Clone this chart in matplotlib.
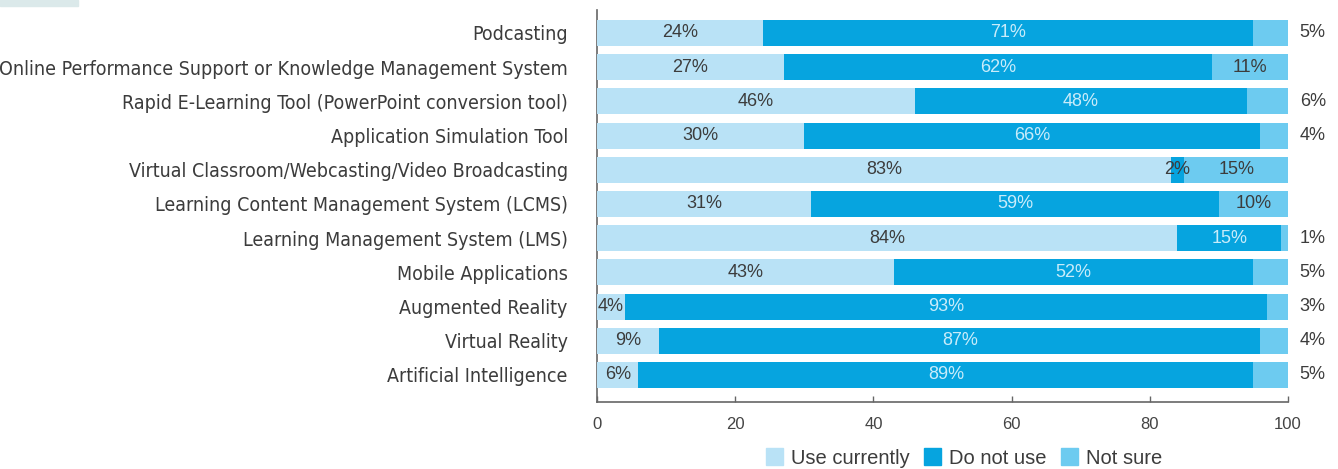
import numpy as np
import matplotlib.pyplot as plt
from matplotlib.patches import Rectangle

categories = [
    'Podcasting',
    'Online Performance Support or Knowledge Management System',
    'Rapid E-Learning Tool (PowerPoint conversion tool)',
    'Application Simulation Tool',
    'Virtual Classroom/Webcasting/Video Broadcasting',
    'Learning Content Management System (LCMS)',
    'Learning Management System (LMS)',
    'Mobile Applications',
    'Augmented Reality',
    'Virtual Reality',
    'Artificial Intelligence',
]
use_currently = [24, 27, 46, 30, 83, 31, 84, 43, 4, 9, 6]
do_not_use = [71, 62, 48, 66, 2, 59, 15, 52, 93, 87, 89]
not_sure = [5, 11, 6, 4, 15, 10, 1, 5, 3, 4, 5]
series_names = ['Use currently', 'Do not use', 'Not sure']

c_use = '#b9e2f6'
c_not = '#06a4df'
c_unsure = '#6dcbf0'
dark = '#3c3c3c'
light = '#c9ecfa'

plain = ['Liberation Sans', 'DejaVu Sans']

fig = plt.figure(figsize=(13.38, 4.69), dpi=100)
ax = fig.add_axes([597 / 1338, 67 / 469, 691 / 1338, 392 / 469])

y = np.arange(len(categories))
use = np.array(use_currently)
dnu = np.array(do_not_use)
uns = np.array(not_sure)
h = 0.76

ax.barh(y, use, height=h, color=c_use, zorder=2)
ax.barh(y, dnu, left=use, height=h, color=c_not, zorder=2)
ax.barh(y, uns, left=use + dnu, height=h, color=c_unsure, zorder=2)

for i in range(len(categories)):
    ax.text(use[i] / 2, y[i], f'{use[i]}%', ha='center', va='center',
            fontsize=13, color=dark, family=plain, zorder=3)
    ax.text(use[i] + dnu[i] / 2, y[i], f'{dnu[i]}%', ha='center', va='center',
            fontsize=13, color=dark if dnu[i] < 5 else light, family=plain, zorder=3)
    end = use[i] + dnu[i] + uns[i]
    if uns[i] >= 8:
        ax.text(use[i] + dnu[i] + uns[i] / 2, y[i], f'{uns[i]}%', ha='center',
                va='center', fontsize=13, color=dark, family=plain, zorder=3)
    else:
        ax.text(end + 1.7, y[i], f'{uns[i]}%', ha='left', va='center',
                fontsize=13, color=dark, family=plain, zorder=3)

ax.set_xlim(0, 100)
ax.set_ylim(len(categories) - 1 + 0.79, -0.67)
ax.set_yticks(y)
ax.set_yticklabels(categories, fontsize=14, color=dark)
for lbl in ax.get_yticklabels():
    lbl.set_family('DejaVu Sans')
    lbl.set_stretch('condensed')
ax.tick_params(axis='y', length=0, pad=21)
ax.set_xticks([0, 20, 40, 60, 80, 100])
ax.tick_params(axis='x', direction='in', length=4, width=1, color='#666666',
               labelsize=12, labelcolor='#444444', pad=11)
for lbl in ax.get_xticklabels():
    lbl.set_family(plain)

for side in ['top', 'right']:
    ax.spines[side].set_visible(False)
for side in ['left', 'bottom']:
    ax.spines[side].set_color('#666666')
    ax.spines[side].set_linewidth(1.2)
    ax.spines[side].set_zorder(1)

handles = [Rectangle((0, 0), 1, 1, color=c) for c in (c_use, c_not, c_unsure)]
fig.legend(handles, series_names, loc='center', bbox_to_anchor=(964 / 1338, 11 / 469),
           ncol=3, frameon=False, handlelength=0.85, handleheight=0.85,
           handletextpad=0.4, columnspacing=0.7,
           prop={'family': plain, 'size': 14.5})
for t in fig.legends[0].get_texts():
    t.set_color(dark)

fig.patches.append(Rectangle((0, 1 - 6 / 469), 78 / 1338, 6 / 469,
                             transform=fig.transFigure, color='#dbe9ea', zorder=0))

fig.savefig('out.png', dpi=100)
